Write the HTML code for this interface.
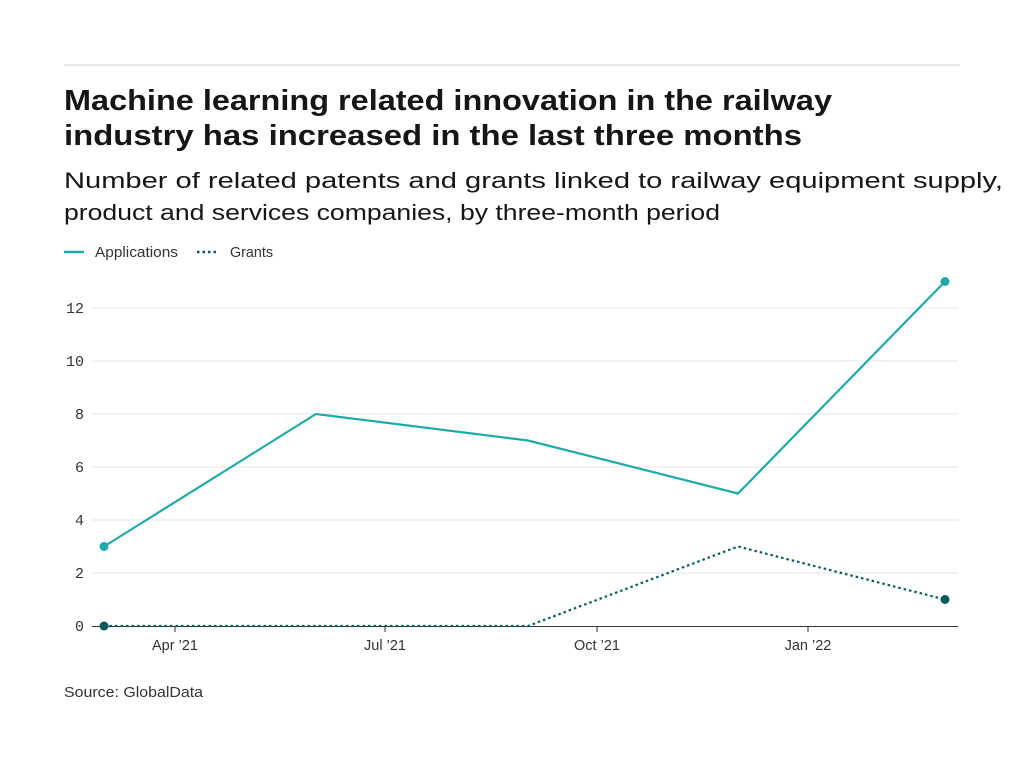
<!DOCTYPE html>
<html><head><meta charset="utf-8"><style>
html,body{margin:0;padding:0;background:#fff;}
body{width:1024px;height:768px;overflow:hidden;position:relative;font-family:"Liberation Sans",sans-serif;color:#161616;}
</style></head><body>
<svg width="1024" height="768" viewBox="0 0 1024 768" xmlns="http://www.w3.org/2000/svg" style="position:absolute;left:0;top:0">
<line x1="64" y1="65" x2="960" y2="65" stroke="#d0d0d0" stroke-width="1"/>
<g font-family="Liberation Sans, sans-serif" fill="#161616">
<text x="64" y="110" font-size="29" font-weight="bold" textLength="768" lengthAdjust="spacingAndGlyphs">Machine learning related innovation in the railway</text>
<text x="64" y="145" font-size="29" font-weight="bold" textLength="738" lengthAdjust="spacingAndGlyphs">industry has increased in the last three months</text>
<text x="64" y="188" font-size="22.5" textLength="939" lengthAdjust="spacingAndGlyphs">Number of related patents and grants linked to railway equipment supply,</text>
<text x="64" y="220" font-size="22.5" textLength="656" lengthAdjust="spacingAndGlyphs">product and services companies, by three-month period</text>
<text x="95" y="257" font-size="14.5" fill="#333" textLength="83" lengthAdjust="spacingAndGlyphs">Applications</text>
<text x="230" y="257" font-size="14.5" fill="#333" textLength="43" lengthAdjust="spacingAndGlyphs">Grants</text>
<text x="64" y="697" font-size="15" fill="#333" textLength="139" lengthAdjust="spacingAndGlyphs">Source: GlobalData</text>
</g>
<line x1="64" y1="252" x2="84" y2="252" stroke="#1fa9a9" stroke-width="2.5"/>
<line x1="197" y1="252" x2="217" y2="252" stroke="#0c5b5b" stroke-width="2.5" stroke-dasharray="2.5,3"/>
<g stroke="#e4e4e4" stroke-width="1">
<line x1="92" y1="308" x2="958" y2="308"/>
<line x1="92" y1="361" x2="958" y2="361"/>
<line x1="92" y1="414" x2="958" y2="414"/>
<line x1="92" y1="467" x2="958" y2="467"/>
<line x1="92" y1="520" x2="958" y2="520"/>
<line x1="92" y1="573" x2="958" y2="573"/>
</g>
<line x1="92" y1="626.5" x2="958" y2="626.5" stroke="#333" stroke-width="1"/>
<g font-family="Liberation Mono, monospace" font-size="15" fill="#333" text-anchor="end">
<text x="84" y="313">12</text><text x="84" y="366">10</text><text x="84" y="419">8</text>
<text x="84" y="472">6</text><text x="84" y="525">4</text><text x="84" y="578">2</text><text x="84" y="631">0</text>
</g>
<g stroke="#333" stroke-width="1">
<line x1="175" y1="626" x2="175" y2="632"/><line x1="385" y1="626" x2="385" y2="632"/>
<line x1="597" y1="626" x2="597" y2="632"/><line x1="808" y1="626" x2="808" y2="632"/>
</g>
<g font-family="Liberation Sans, sans-serif" font-size="14.5" fill="#333" text-anchor="middle">
<text x="175" y="650">Apr ’21</text><text x="385" y="650">Jul ’21</text>
<text x="597" y="650">Oct ’21</text><text x="808" y="650">Jan ’22</text>
</g>
<polyline points="104,546.5 316,414 528,440.5 738,493.5 945,281.5" fill="none" stroke="#1fa9a9" stroke-width="2.2"/>
<circle cx="104" cy="546.5" r="4.5" fill="#1fa9a9"/><circle cx="945" cy="281.5" r="4.5" fill="#1fa9a9"/>
<polyline points="104,626 316,626 528,626 738,546.5 945,599.5" fill="none" stroke="#0c5b5b" stroke-width="2.2" stroke-dasharray="2.5,3"/>
<circle cx="104" cy="626" r="4.5" fill="#0c5b5b"/><circle cx="945" cy="599.5" r="4.5" fill="#0c5b5b"/>
</svg>
</body></html>
